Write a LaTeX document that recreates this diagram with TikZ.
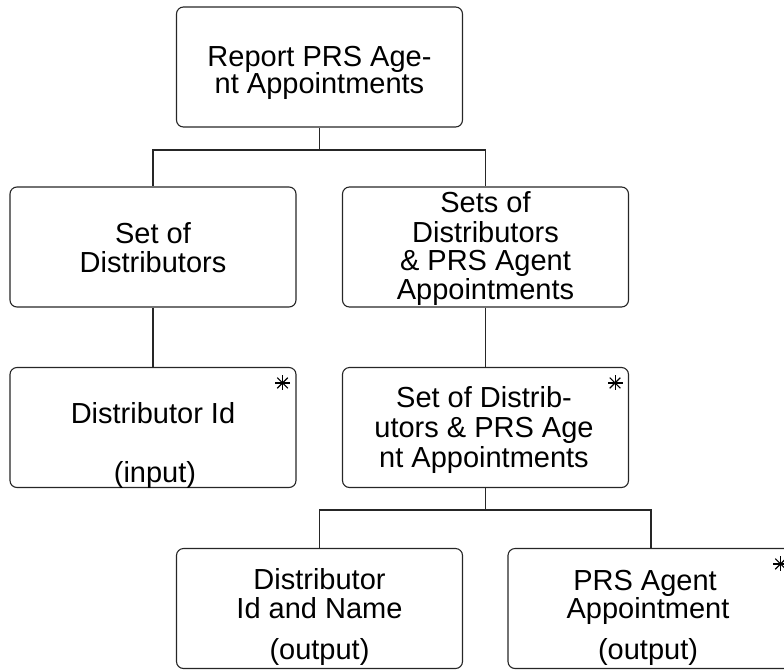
\documentclass[tikz,border=0pt]{standalone}
\usepackage{fontspec}
\setmainfont{Liberation Sans}
\usetikzlibrary{calc}
\begin{document}
\begin{tikzpicture}[x=1pt,y=-1pt,
  box/.style={draw=black!85, line width=1.1pt, rounded corners=7pt, minimum width=286pt, minimum height=120pt, inner sep=0pt},
  lbl/.style={anchor=base, inner sep=0pt, font=\fontsize{29}{29}\selectfont},
  link/.style={draw=black!85, line width=1.1pt},
  star/.style={draw=black, line width=1.1pt}]
\useasboundingbox (0,0) rectangle (784,670);
% boxes
\node[box] (top) at (319.5,67) {};
\node[box] (l2) at (153,247) {};
\node[box] (r2) at (485.5,247) {};
\node[box] (l3) at (153,427.5) {};
\node[box] (r3) at (485.5,427.5) {};
\node[box] (l4) at (319.5,608.5) {};
\node[box] (r4) at (651,608.5) {};
% texts
\node[lbl] (t1) at (319.5,66) {Report PRS Age-};
\node[lbl] (t2) at (319.5,93) {nt Appointments};
\node[lbl] (t3) at (153,243) {Set of};
\node[lbl] (t4) at (153,272) {Distributors};
\node[lbl] (t5) at (485.5,212) {Sets of};
\node[lbl] (t6) at (485.5,242) {Distributors};
\node[lbl] (t7) at (485.5,270) {\& PRS Agent};
\node[lbl] (t8) at (485.5,299) {Appointments};
\node[lbl] (t9) at (153,423) {Distributor Id};
\node[lbl] (t10) at (155,482) {(input)};
\node[lbl] (t11) at (484,407) {Set of Distrib-};
\node[lbl] (t12) at (484,437) {utors \& PRS Age};
\node[lbl] (t13) at (484,467) {nt Appointments};
\node[lbl] (t14) at (319.5,589) {Distributor};
\node[lbl] (t15) at (319.5,618) {Id and Name};
\node[lbl] (t16) at (319.5,659) {(output)};
\node[lbl] (t17) at (645,590) {PRS Agent};
\node[lbl] (t18) at (648,618) {Appointment};
\node[lbl] (t19) at (648,659) {(output)};
% connectors
\coordinate (j1) at (319.5,150);
\coordinate (j2) at (485.5,510);
\draw[link] (top.south) -- (j1) -| (l2.north);
\draw[link] (j1) -| (r2.north);
\draw[link] (l2.south) -- (l3.north);
\draw[link] (r2.south) -- (r3.north);
\draw[link] (r3.south) -- (j2) -| (l4.north);
\draw[link] (j2) -| (r4.north);
% asterisks
\foreach \b in {l3,r3,r4}{
  \coordinate (c) at ($(\b.north east)+(-14,16)$);
  \foreach \a in {0,45,90,135}{
    \draw[star] ($(c)+(\a:7.5pt)$) -- ($(c)+(\a+180:7.5pt)$);
  }
}
\end{tikzpicture}
\end{document}
